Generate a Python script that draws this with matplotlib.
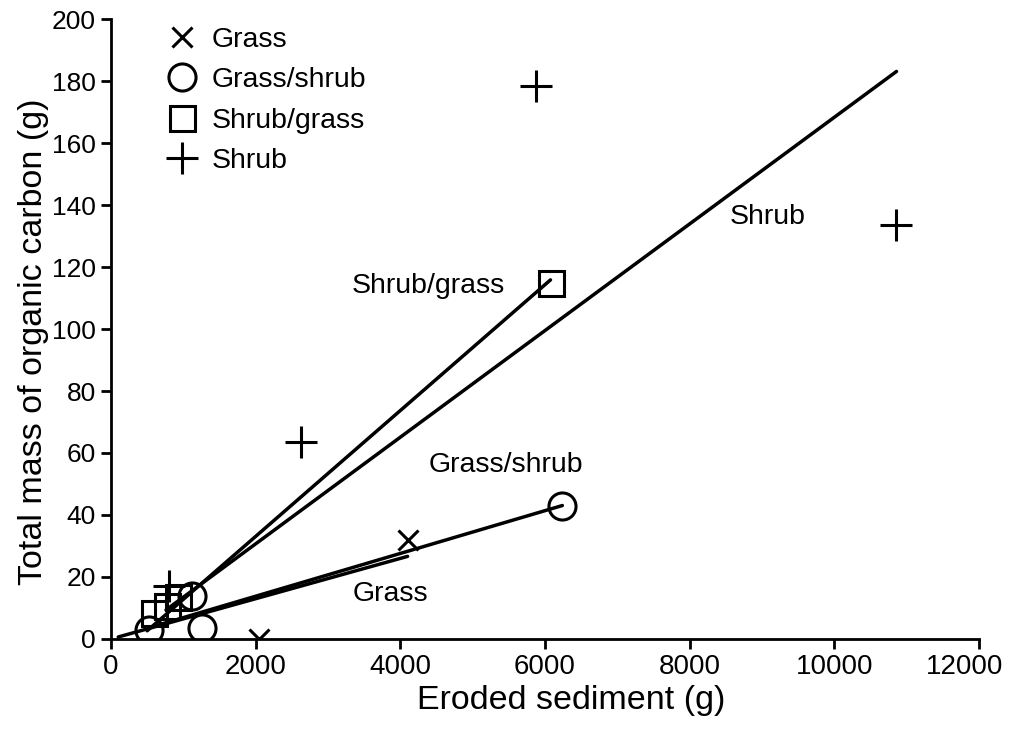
import numpy as np
from matplotlib import pyplot as plt
from matplotlib.transforms import ScaledTranslation

plt.rcParams['font.family'] = ['Liberation Sans', 'DejaVu Sans']

# eroded sediment (g) vs total organic carbon (g), per vegetation type
grass_x = [2040, 4110]
grass_y = [0, 32]
grass_shrub_x = [520, 1120, 1260, 6240]
grass_shrub_y = [3, 14, 3.5, 43]
shrub_grass_x = [590, 780, 930, 6080]
shrub_grass_y = [8.3, 10.5, 13.5, 115]
shrub_x = [800, 2620, 5880, 10850]
shrub_y = [17, 63.5, 178.5, 133.5]

# fitted lines: slope, intercept, x start, x end
fit_names = ["Grass", "Grass/shrub", "Shrub/grass", "Shrub"]
fit_slope = [0.0065, 0.0069, 0.0203, 0.0172]
fit_icept = [0.0, 0.0, -7.5, -3.7]
fit_x0 = [100, 520, 500, 760]
fit_x1 = [4100, 6240, 6076, 10860]

fig = plt.figure(figsize=(10.13, 7.40), dpi=100)
ax = fig.add_axes([0.1096, 0.1365, 0.8568, 0.8378])

for s, b, x0, x1 in zip(fit_slope, fit_icept, fit_x0, fit_x1):
    xs = np.array([x0, x1])
    ax.plot(xs, s * xs + b, color='black', lw=2.5, solid_capstyle='round', zorder=2)

mk = dict(linestyle='none', color='black', markerfacecolor='none', markeredgewidth=2.2, zorder=3)
ax.plot(grass_x, grass_y, marker='x', markersize=15, label='Grass', **mk)
ax.plot(grass_shrub_x, grass_shrub_y, marker='o', markersize=19.5, label='Grass/shrub', **mk)
ax.plot(shrub_grass_x, shrub_grass_y, marker='s', markersize=18, label='Shrub/grass', **mk)
ax.plot(shrub_x, shrub_y, marker='+', markersize=23, label='Shrub', **mk)

fs = 20.5
ax.text(9080, 136, "Shrub", fontsize=fs, ha='center', va='center')
ax.text(4380, 114, "Shrub/grass", fontsize=fs, ha='center', va='center')
ax.text(5460, 56, "Grass/shrub", fontsize=fs, ha='center', va='center')
ax.text(3870, 14.5, "Grass", fontsize=fs, ha='center', va='center')

ax.set_xlim(0, 12000)
ax.set_ylim(0, 200)
ax.set_xticks(np.arange(0, 12001, 2000))
ax.set_yticks(np.arange(0, 201, 20))
ax.set_xlabel("Eroded sediment (g)", fontsize=24.5)
ax.set_ylabel("Total mass of organic carbon (g)", fontsize=24.5)
ax.xaxis.set_label_coords(0.53, -0.075)
ax.yaxis.set_label_coords(-0.072, 0.48)
ax.tick_params(width=2.0, length=7, color='black', pad=4)
ax.tick_params(axis='x', labelsize=20)
ax.tick_params(axis='y', labelsize=19)
for side in ['top', 'right']:
    ax.spines[side].set_visible(False)
for side in ['left', 'bottom']:
    ax.spines[side].set_linewidth(2.0)
ax.patch.set_visible(False)

# last x label sits a little left of its tick so it stays inside the picture
last = ax.get_xticklabels()[-1]
last.set_transform(last.get_transform() + ScaledTranslation(-14 / 100, 0, fig.dpi_scale_trans))

ax.legend(loc='upper left', bbox_to_anchor=(0.042, 1.019), frameon=False,
          fontsize=fs, handlelength=1.0, handletextpad=0.55, labelspacing=0.5,
          borderpad=0.2)

fig.savefig('out.png', dpi=100)
